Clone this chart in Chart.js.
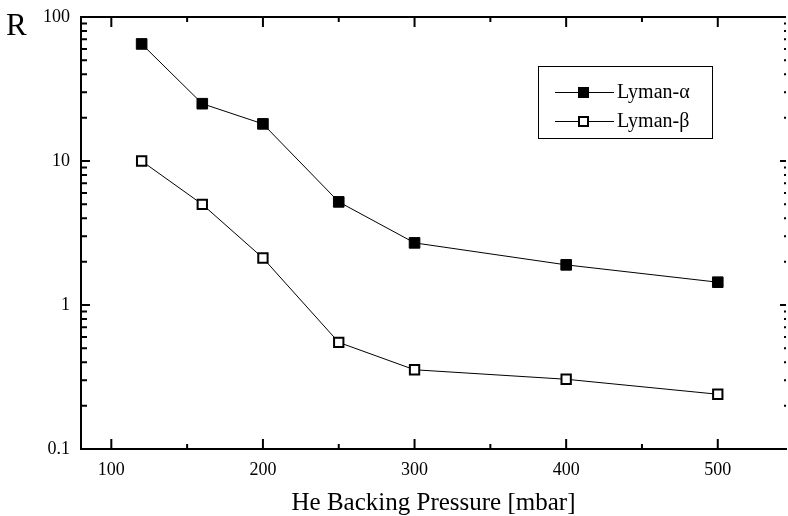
<!DOCTYPE html>
<html>
<head>
<meta charset="utf-8">
<script src="https://cdn.jsdelivr.net/npm/chart.js@4/dist/chart.umd.min.js"></script>
<style>
  html, body { margin: 0; padding: 0; background: #fff; }
  #wrap { width: 788px; height: 516px; }
</style>
</head>
<body>
<div id="wrap"><canvas id="chart" width="788" height="516"></canvas></div>
<script>
const pressure = [120, 160, 200, 250, 300, 400, 500];
const lymanAlpha = [65, 25, 18.1, 5.2, 2.7, 1.9, 1.44];
const lymanBeta = [10, 5.0, 2.12, 0.55, 0.355, 0.305, 0.24];
const xTicks = [100, 200, 300, 400, 500];
const yTicks = [0.1, 1, 10, 100];
const seriesNames = ['Lyman-\u03b1', 'Lyman-\u03b2'];

const serif = "'Liberation Serif', 'Times New Roman', serif";

// ticks pointing into the plot, on all four sides, plus legend box and the R label
const framePlugin = {
  id: 'frame',
  afterDraw(chart) {
    const ctx = chart.ctx;
    const a = chart.chartArea;
    const xs = chart.scales.x, ys = chart.scales.y;
    ctx.save();
    ctx.strokeStyle = '#000';
    ctx.lineWidth = 2;
    // top border
    ctx.beginPath();
    ctx.moveTo(a.left - 1, a.top);
    ctx.lineTo(a.right, a.top);
    ctx.stroke();

    // x ticks
    for (let v = 100; v <= xs.max; v += 50) {
      const px = xs.getPixelForValue(v);
      const len = v % 100 === 0 ? 10 : 5;
      ctx.beginPath();
      ctx.moveTo(px, a.bottom); ctx.lineTo(px, a.bottom - len);
      ctx.moveTo(px, a.top); ctx.lineTo(px, a.top + len);
      ctx.stroke();
    }
    // y ticks (log)
    for (let d = 0.1; d < 100.5; d *= 10) {
      for (let m = 1; m <= 9; m++) {
        const v = d * m;
        if (v > 100.001) break;
        const py = ys.getPixelForValue(v);
        const major = m === 1;
        ctx.beginPath();
        ctx.moveTo(a.left, py); ctx.lineTo(a.left + (major ? 9 : 6), py);
        ctx.moveTo(a.right, py); ctx.lineTo(a.right - (major ? 6 : 2), py);
        ctx.stroke();
      }
    }

    // legend
    ctx.lineWidth = 1;
    ctx.strokeRect(538.5, 66.5, 174, 72);
    const rows = [92, 121];
    ctx.font = '20px ' + serif;
    ctx.textBaseline = 'middle';
    ctx.fillStyle = '#000';
    chart.data.datasets.forEach((ds, i) => {
      const y = rows[i];
      ctx.beginPath();
      ctx.moveTo(555, y + 0.5); ctx.lineTo(614, y + 0.5);
      ctx.stroke();
      if (i === 0) {
        ctx.fillStyle = '#000';
        ctx.fillRect(578, y - 5, 11, 11);
      } else {
        ctx.fillStyle = '#fff';
        ctx.fillRect(579, y - 4, 9, 9);
        ctx.lineWidth = 2;
        ctx.strokeRect(579, y - 4, 9, 9);
        ctx.lineWidth = 1;
      }
      ctx.fillStyle = '#000';
      ctx.fillText(ds.label, 617, y + 1);
    });

    // y axis label
    ctx.font = '31px ' + serif;
    ctx.textBaseline = 'alphabetic';
    ctx.fillText('R', 6, 35);
    ctx.restore();
  }
};

const noPad = s => {
  s.paddingTop = 0; s.paddingBottom = 0; s.paddingLeft = 0; s.paddingRight = 0;
};

new Chart(document.getElementById('chart'), {
  type: 'line',
  data: {
    datasets: [{
      label: seriesNames[0],
      data: pressure.map((p, i) => ({ x: p, y: lymanAlpha[i] })),
      borderColor: '#000',
      borderWidth: 1,
      pointStyle: 'rect',
      pointRadius: 7.5,
      pointBackgroundColor: '#000',
      pointBorderColor: '#000',
      pointBorderWidth: 1,
      tension: 0
    }, {
      label: seriesNames[1],
      data: pressure.map((p, i) => ({ x: p, y: lymanBeta[i] })),
      borderColor: '#000',
      borderWidth: 1,
      pointStyle: 'rect',
      pointRadius: 6.6,
      pointBackgroundColor: '#fff',
      pointBorderColor: '#000',
      pointBorderWidth: 2,
      tension: 0
    }]
  },
  options: {
    responsive: false,
    animation: false,
    layout: { autoPadding: false, padding: { top: 17, right: 2, left: 0, bottom: 0 } },
    plugins: { legend: { display: false }, tooltip: { enabled: false } },
    scales: {
      x: {
        type: 'linear',
        min: 80,
        max: 545,
        afterBuildTicks: s => { s.ticks = xTicks.map(v => ({ value: v })); },
        afterFit: s => { s.height = 67; noPad(s); },
        grid: { display: false, drawTicks: false },
        border: { display: true, width: 2, color: '#000' },
        ticks: { color: '#000', padding: 10, maxRotation: 0, font: { family: serif, size: 18 } },
        title: {
          display: true,
          text: 'He Backing Pressure [mbar]',
          color: '#000',
          font: { family: serif, size: 25, lineHeight: 1 },
          padding: { top: 0, bottom: 0 }
        }
      },
      y: {
        type: 'logarithmic',
        min: 0.1,
        max: 100,
        afterBuildTicks: s => { s.ticks = yTicks.map(v => ({ value: v })); },
        afterFit: s => { s.width = 81; noPad(s); },
        grid: { display: false, drawTicks: false },
        border: { display: true, width: 2, color: '#000' },
        ticks: {
          color: '#000',
          padding: 11,
          font: { family: serif, size: 18 },
          callback: v => String(v)
        }
      }
    }
  },
  plugins: [framePlugin]
});
</script>
</body>
</html>
